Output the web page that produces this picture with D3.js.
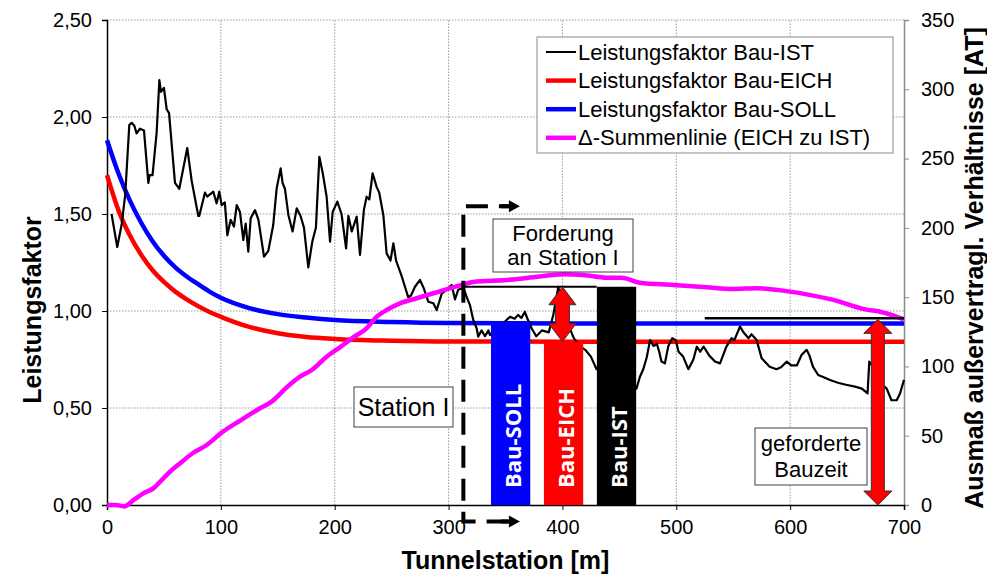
<!DOCTYPE html>
<html>
<head>
<meta charset="utf-8">
<script src="https://cdn.jsdelivr.net/npm/d3@7"></script>
<style>
  body { margin: 0; background: #fff; }
  svg { display: block; }
</style>
</head>
<body>
<div id="chart"></div>
<script>
// tick values
const stationTicks = [0, 100, 200, 300, 400, 500, 600, 700];
const factorTicks = [0, 0.5, 1, 1.5, 2, 2.5];
const atTicks = [0, 50, 100, 150, 200, 250, 300, 350];

// Leistungsfaktor Bau-IST [station, factor]
const istData = [
  [4, 1.5], [9, 1.33], [13, 1.45], [16, 1.6], [19.6, 1.96], [21.7, 1.97], [24, 1.955], [26, 1.915],
  [29, 1.94], [32.5, 1.93], [36.3, 1.66], [37.4, 1.7], [40, 1.7], [43.6, 1.92], [46, 2.19], [47.4, 2.13],
  [50, 2.15], [52.4, 2.04], [54.5, 2.02], [59.7, 1.66], [63.5, 1.63], [70.5, 1.84], [74.4, 1.67],
  [80.2, 1.49], [81, 1.49], [86, 1.61], [88, 1.59], [93.4, 1.615], [96.3, 1.555], [98.6, 1.615],
  [100.7, 1.546], [103.5, 1.56], [105.7, 1.39], [108.6, 1.47], [111.5, 1.435], [113.9, 1.546],
  [116.8, 1.51], [119.7, 1.366], [121.8, 1.45], [124.1, 1.306], [126.2, 1.478], [130, 1.52], [133, 1.47],
  [137.9, 1.28], [141.7, 1.31], [146, 1.443], [149, 1.632], [152.5, 1.735], [154.2, 1.66], [156.3, 1.63],
  [159.3, 1.495], [163, 1.41], [166.6, 1.529], [170, 1.49], [173, 1.43], [176.8, 1.225], [180.3, 1.357],
  [183.5, 1.43], [186.5, 1.795], [189.5, 1.71], [192.9, 1.589], [195.9, 1.357], [198.2, 1.51],
  [202.3, 1.564], [206, 1.5], [210, 1.323], [212, 1.49], [215, 1.41], [219.3, 1.486], [222.2, 1.289],
  [225.6, 1.52], [228, 1.589], [230.4, 1.575], [233.3, 1.71], [236.8, 1.64], [239.1, 1.61], [242.7, 1.495],
  [245.6, 1.297], [249, 1.26], [251.5, 1.349], [253.9, 1.26], [258.8, 1.18], [261.7, 1.125], [264.6, 1.07],
  [267, 1.08], [270.5, 1.125], [274.9, 1.16], [278, 1.12], [282.2, 1.048], [286.6, 1.04], [289.6, 1.005],
  [294, 1.09], [298.5, 1.11], [302.7, 1.134], [305.6, 1.06], [308.5, 1.11], [313, 1.12], [316, 1.07],
  [318.8, 1.03], [321.7, 0.954], [324.7, 0.91], [326, 0.868], [329, 0.9], [332, 0.87], [335, 0.9],
  [336.4, 0.876], [340, 0.9], [345, 0.92], [351, 0.954], [354, 0.97], [358, 0.96], [361, 0.98],
  [364, 0.964], [367, 0.996], [369, 0.964], [373, 0.91], [377, 0.87], [382, 0.9], [388, 0.89],
  [392, 0.98], [396.4, 1.125], [400, 1.0], [405, 0.93], [410, 0.86], [415, 0.82], [420, 0.8],
  [425, 0.765], [430, 0.7], [440, 0.68], [450, 0.65], [460, 0.62], [465, 0.6], [468, 0.66], [471, 0.7],
  [474, 0.76], [477, 0.85], [480, 0.82], [483, 0.83], [485, 0.79], [487, 0.74], [490, 0.73], [493, 0.82],
  [496.5, 0.86], [499.5, 0.85], [502, 0.79], [506, 0.765], [510.6, 0.7], [515, 0.75], [518, 0.816],
  [521, 0.79], [524, 0.816], [529, 0.77], [534, 0.74], [538.4, 0.73], [544, 0.816], [548.6, 0.86],
  [551, 0.85], [556, 0.92], [559, 0.89], [563.5, 0.86], [566, 0.88], [570.6, 0.85], [575, 0.756],
  [582, 0.713], [588, 0.7], [592, 0.71], [597, 0.739], [601, 0.72], [606, 0.72], [610, 0.773],
  [614.5, 0.8], [617, 0.77], [620, 0.713], [624.6, 0.67], [629, 0.66], [635, 0.644], [642, 0.63],
  [649, 0.62], [657, 0.61], [663, 0.6], [668, 0.575], [669.5, 0.739], [672, 0.72], [677, 0.66],
  [681, 0.62], [684.8, 0.6], [689, 0.54], [693.6, 0.54], [696.5, 0.575], [700, 0.645]
];

// Leistungsfaktor Bau-EICH
const eichData = [
  [0, 1.7], [10, 1.52], [20, 1.39], [30, 1.29], [40, 1.21], [50, 1.15], [60, 1.1], [70, 1.06],
  [80, 1.025], [90, 0.995], [100, 0.97], [125, 0.918], [150, 0.885], [175, 0.866], [200, 0.856],
  [250, 0.847], [300, 0.843], [400, 0.842], [700, 0.842]
];

// Leistungsfaktor Bau-SOLL
const sollData = [
  [0, 1.88], [10, 1.71], [20, 1.57], [30, 1.455], [40, 1.36], [50, 1.285], [60, 1.225], [70, 1.178],
  [80, 1.138], [90, 1.1], [100, 1.068], [125, 1.015], [150, 0.984], [175, 0.966], [200, 0.953],
  [250, 0.943], [300, 0.938], [400, 0.936], [700, 0.935]
];

// Δ-Summenlinie (EICH zu IST), rechte Achse [AT]
const summenData = [
  [0, 0], [8, 0], [15, -1], [24, 4], [31.9, 8.4], [40.7, 12], [48, 18], [55.3, 24], [64, 30],
  [75.8, 37.7], [87.6, 43.3], [100.7, 52.2], [116.8, 60.8], [134.4, 69.8], [144.6, 74.6], [157.8, 84.9],
  [169.5, 92.6], [179.8, 97.4], [192.9, 107], [204.6, 113.8], [216.3, 121], [228, 127.5], [236.9, 135.9],
  [245.6, 140.7], [257.3, 145.5], [272, 149.2], [286.6, 152.8], [310, 158.5], [321.7, 161], [351, 162.4],
  [374.4, 164.3], [400.8, 166.5], [418.3, 166], [438.9, 164], [452, 164], [468, 160.4], [497.4, 158.8],
  [526.7, 157.1], [550, 155.9], [570.6, 156.4], [594, 154.7], [614.5, 152], [638, 148], [667, 141],
  [679, 139.5], [700, 134]
];

// Säulen an Station I
const barNames = ["Bau-SOLL", "Bau-EICH", "Bau-IST"];
const barStations = [354.5, 401, 447.5];
const barValues = [0.944, 0.842, 1.125];
const barColors = ["#0000ff", "#ff0000", "#000000"];
const barWidthM = 34.5;

const legendLabels = [
  "Leistungsfaktor Bau-IST",
  "Leistungsfaktor Bau-EICH",
  "Leistungsfaktor Bau-SOLL",
  "\u0394-Summenlinie (EICH zu IST)"
];
const legendColors = ["#000000", "#ff0000", "#0000ff", "#ff00ff"];

const stationI = 313;
const forderungLevel = 1.125;
const forderungEnd = 430;
const bauzeitLevel = 0.962;
const bauzeitStart = 525;
const arrowStation1 = 400;
const arrowStation2 = 677;

const width = 987, height = 574;
const margin = { top: 20, right: 83, bottom: 69, left: 107 };
const FONT = "'Liberation Sans', Arial, sans-serif";

const svg = d3.select("#chart").append("svg")
  .attr("width", width).attr("height", height)
  .style("font-family", FONT);

const x = d3.scaleLinear().domain([0, 700]).range([margin.left, width - margin.right]);
const y = d3.scaleLinear().domain([0, 2.5]).range([height - margin.bottom, margin.top]);
const y2 = d3.scaleLinear().domain([0, 350]).range([height - margin.bottom, margin.top]);

// grid
svg.append("g").selectAll("line").data(factorTicks.filter(d => d > 0)).join("line")
  .attr("x1", x(0)).attr("x2", x(700)).attr("y1", d => y(d)).attr("y2", d => y(d))
  .attr("stroke", "#9a9a9a").attr("stroke-width", 1).attr("stroke-dasharray", "1.5,1.5");
svg.append("g").selectAll("line").data(stationTicks.filter(d => d > 0 && d < 700)).join("line")
  .attr("x1", d => x(d)).attr("x2", d => x(d)).attr("y1", y(0)).attr("y2", y(2.5))
  .attr("stroke", "#9a9a9a").attr("stroke-width", 1).attr("stroke-dasharray", "1.5,1.5");

// axes
const fmt = d3.format(".2f");
const axLeft = svg.append("g").attr("transform", `translate(${x(0)},0)`)
  .call(d3.axisLeft(y).tickValues(factorTicks).tickSize(5).tickPadding(10)
    .tickFormat(d => fmt(d).replace(".", ",")));
const axRight = svg.append("g").attr("transform", `translate(${x(700)},0)`)
  .call(d3.axisRight(y2).tickValues(atTicks).tickSize(5).tickPadding(12));
const axBottom = svg.append("g").attr("transform", `translate(0,${y(0)})`)
  .call(d3.axisBottom(x).tickValues(stationTicks).tickSize(5).tickPadding(10));
[axLeft, axRight, axBottom].forEach(a => {
  a.selectAll("path.domain").attr("stroke-width", 1.5);
  a.selectAll("text").style("font-family", FONT).style("font-size", "20px").attr("fill", "#000");
});
axRight.selectAll("path.domain, line").attr("stroke", "#8c8c8c");

// titles
svg.append("text")
  .attr("transform", `translate(32,310) rotate(-90)`)
  .attr("text-anchor", "middle").attr("dominant-baseline", "central")
  .style("font-size", "25px").style("font-weight", "bold").text("Leistungsfaktor");
svg.append("text")
  .attr("transform", `translate(974,268) rotate(-90)`)
  .attr("text-anchor", "middle").attr("dominant-baseline", "central")
  .style("font-size", "25px").style("font-weight", "bold").text("Ausmaß außervertragl. Verhältnisse [AT]");
svg.append("text")
  .attr("x", (x(0) + x(700)) / 2).attr("y", 569)
  .attr("text-anchor", "middle")
  .style("font-size", "25px").style("font-weight", "bold").text("Tunnelstation [m]");

// lines
const lineL = d3.line().x(d => x(d[0])).y(d => y(d[1]));
const lineR = d3.line().x(d => x(d[0])).y(d => y2(d[1])).curve(d3.curveMonotoneX);
const smooth = d3.line().x(d => x(d[0])).y(d => y(d[1])).curve(d3.curveMonotoneX);

svg.append("path").datum(eichData).attr("d", smooth)
  .attr("fill", "none").attr("stroke", "#ff0000").attr("stroke-width", 4.5);
svg.append("path").datum(sollData).attr("d", smooth)
  .attr("fill", "none").attr("stroke", "#0000ff").attr("stroke-width", 4.5);
svg.append("path").datum(istData).attr("d", lineL)
  .attr("fill", "none").attr("stroke", "#000").attr("stroke-width", 2.2).attr("stroke-linejoin", "round");
svg.append("path").datum(summenData).attr("d", lineR)
  .attr("fill", "none").attr("stroke", "#ff00ff").attr("stroke-width", 4.5);

// black reference lines
svg.append("line")
  .attr("x1", x(stationI)).attr("x2", x(forderungEnd))
  .attr("y1", y(forderungLevel)).attr("y2", y(forderungLevel))
  .attr("stroke", "#000").attr("stroke-width", 2);
svg.append("line")
  .attr("x1", x(bauzeitStart)).attr("x2", x(700))
  .attr("y1", y(bauzeitLevel)).attr("y2", y(bauzeitLevel))
  .attr("stroke", "#000").attr("stroke-width", 2.5);

// bars
const bars = svg.append("g");
barNames.forEach((name, i) => {
  const x0 = x(barStations[i] - barWidthM / 2);
  const x1 = x(barStations[i] + barWidthM / 2);
  bars.append("rect")
    .attr("x", x0).attr("y", y(barValues[i]))
    .attr("width", x1 - x0).attr("height", y(0) - y(barValues[i]))
    .attr("fill", barColors[i]);
  bars.append("text")
    .attr("transform", `translate(${(x0 + x1) / 2 + 1},${y(0) - 17}) rotate(-90)`)
    .attr("dominant-baseline", "central")
    .style("font-family", "'Open Sans', sans-serif")
    .style("font-size", "22px").style("font-weight", "bold")
    .attr("fill", "#fff").text(name);
});

// double arrows
function doubleArrow(cx, yTop, yBot, hw, sw, h) {
  const p = [
    [cx, yTop], [cx + hw, yTop + h], [cx + sw, yTop + h], [cx + sw, yBot - h], [cx + hw, yBot - h],
    [cx, yBot], [cx - hw, yBot - h], [cx - sw, yBot - h], [cx - sw, yTop + h], [cx - hw, yTop + h]
  ];
  svg.append("polygon").attr("points", p.map(q => q.join(",")).join(" "))
    .attr("fill", "#ff0000").attr("stroke", "#333").attr("stroke-width", 1);
}
doubleArrow(x(arrowStation1), y(forderungLevel), y(barValues[1]), 13.5, 7, 18);
doubleArrow(x(arrowStation2), y(bauzeitLevel) + 1, y(0), 14, 6.5, 14);

// Station I dashed bracket
const xs = x(stationI), xe = x(stationI + 40);
const yTopB = y(1.54), yBotB = y(-0.085);
svg.append("path")
  .attr("d", `M${xe},${yTopB} L${xs},${yTopB} L${xs},${yBotB} L${xe},${yBotB}`)
  .attr("fill", "none").attr("stroke", "#000").attr("stroke-width", 4)
  .attr("stroke-dasharray", "22,11").attr("stroke-dashoffset", 12);
[yTopB, yBotB].forEach(yy => {
  svg.append("line").attr("x1", xe - 8).attr("x2", xe).attr("y1", yy).attr("y2", yy)
    .attr("stroke", "#000").attr("stroke-width", 4);
  svg.append("polygon")
    .attr("points", `${xe},${yy - 6} ${xe + 11},${yy} ${xe},${yy + 6}`).attr("fill", "#000");
});

// annotation boxes
function textBox(bx, by, bw, bh, lines, size, lineGap) {
  svg.append("rect").attr("x", bx).attr("y", by).attr("width", bw).attr("height", bh)
    .attr("fill", "#fff").attr("stroke", "#404040").attr("stroke-width", 1);
  const t = svg.append("text").attr("text-anchor", "middle").style("font-size", size + "px");
  const startY = by + bh / 2 - (lines.length - 1) * lineGap / 2;
  lines.forEach((l, i) => {
    t.append("tspan").attr("x", bx + bw / 2).attr("y", startY + i * lineGap)
      .attr("dominant-baseline", "central").text(l);
  });
}
textBox(493, 219, 140, 53, ["Forderung", "an Station I"], 22, 24);
textBox(354, 387, 99, 40, ["Station I"], 25, 0);
textBox(755, 428, 112, 57, ["geforderte", "Bauzeit"], 22, 26);

// legend
const lg = svg.append("g");
lg.append("rect").attr("x", 537).attr("y", 37).attr("width", 356).attr("height", 116)
  .attr("fill", "#fff").attr("stroke", "#8c8c8c").attr("stroke-width", 1);
legendLabels.forEach((l, i) => {
  const yy = 52 + i * 28.6;
  lg.append("line").attr("x1", 546).attr("x2", 576).attr("y1", yy).attr("y2", yy)
    .attr("stroke", legendColors[i]).attr("stroke-width", i === 0 ? 2 : 4.5);
  lg.append("text").attr("x", 578).attr("y", yy).attr("dominant-baseline", "central")
    .style("font-size", "22px").text(l);
});
</script>
</body>
</html>
